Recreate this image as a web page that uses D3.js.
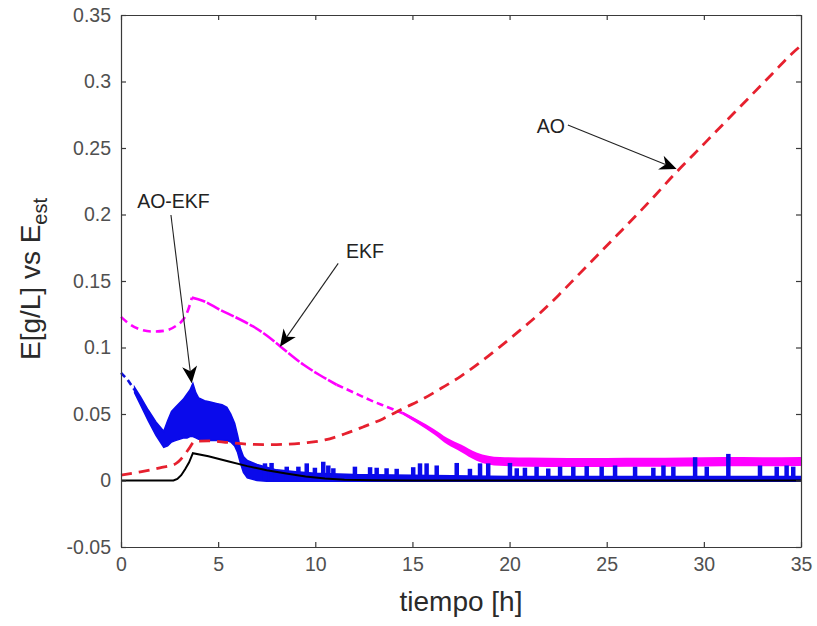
<!DOCTYPE html>
<html><head><meta charset="utf-8">
<script src="https://cdn.jsdelivr.net/npm/d3@7"></script>
<style>body{margin:0;background:#fff;} text{font-family:"Liberation Sans",Arial,Helvetica,sans-serif;}</style>
</head><body><svg id="c" width="817" height="626"></svg>
<script>
// ---- data ----
const xTicks = [0, 5, 10, 15, 20, 25, 30, 35];
const yTicks = [-0.05, 0, 0.05, 0.1, 0.15, 0.2, 0.25, 0.3, 0.35];

// true E (black)
const trueT = [0, 2.7, 2.9, 3.1, 3.3, 3.5, 3.7, 4.5, 5.5, 6.5, 7.5, 8.5, 9.5, 10.5, 11.5, 13, 15, 35];
const trueV = [0, 0, 0.0012, 0.004, 0.0085, 0.0135, 0.0205, 0.0182, 0.0145, 0.0108, 0.0077, 0.0052, 0.003, 0.0015, 0.0006, 0.0002, 0, 0];

// AO estimate (red dashed)
const aoT = [0, 1, 2, 2.8, 3.2, 3.5, 3.8, 4.5, 5.5, 6.5, 7.5, 8.5, 9.5, 10.5, 11.5, 12.5, 13.5, 14.5, 15.5, 16.5, 17.5, 18.5, 19.5, 20.5, 21.5, 22.5, 23.5, 24.5, 25.5, 26.5, 27.5, 28.5, 29.5, 30.5, 31.5, 32.5, 33.5, 34.5, 35];
const aoV = [0.004, 0.0065, 0.0095, 0.0125, 0.018, 0.024, 0.0295, 0.0298, 0.0286, 0.0273, 0.027, 0.0273, 0.0284, 0.0305, 0.035, 0.0405, 0.0465, 0.054, 0.061, 0.0695, 0.0785, 0.089, 0.1005, 0.1125, 0.125, 0.139, 0.154, 0.169, 0.184, 0.199, 0.2145, 0.2305, 0.2455, 0.2605, 0.2755, 0.2905, 0.3055, 0.3205, 0.327];

// EKF estimate (magenta): centre and noise half-width
const ekfT = [0, 0.5, 1, 1.6, 2.2, 2.8, 3.2, 3.45, 3.65, 4.2, 5.1, 6, 6.8, 7.5, 8.2, 9.4, 10.2, 11.1, 12, 12.8, 13.7, 14.5, 15.3, 16.1, 16.8, 17.5, 18.3, 19.5, 21, 23, 25, 27, 29, 31, 33, 35];
const ekfV = [0.123, 0.117, 0.1135, 0.112, 0.1125, 0.116, 0.121, 0.128, 0.1375, 0.1352, 0.1283, 0.122, 0.1158, 0.109, 0.1008, 0.087, 0.0795, 0.072, 0.066, 0.0606, 0.0553, 0.0506, 0.044, 0.0368, 0.0295, 0.0243, 0.018, 0.0143, 0.0138, 0.0135, 0.0136, 0.0137, 0.0139, 0.0142, 0.0141, 0.0143];
const ekfW = [0, 0, 0, 0, 0, 0, 0, 0, 0, 0, 0, 0, 0, 0, 0, 0, 0, 0, 0, 0, 0, 0.001, 0.0015, 0.002, 0.0025, 0.0028, 0.0031, 0.0033, 0.0034, 0.0034, 0.0034, 0.0034, 0.0034, 0.0034, 0.0034, 0.0034];

// AO-EKF estimate (blue): initial line, noisy band envelope, spikes
const aoekfT = [0, 0.35, 0.7];
const aoekfV = [0.081, 0.0755, 0.068];
const bandT = [0.7, 1.0, 1.4, 1.8, 2.2, 2.4, 2.6, 2.8, 3.0, 3.2, 3.4, 3.55, 3.7, 3.85, 4.0, 4.3, 4.6, 4.9, 5.2, 5.45, 5.65, 5.85, 6.0, 6.15, 6.3, 6.5, 7, 7.5, 8, 9, 10, 12, 15, 20, 35];
const bandHi = [0.070, 0.063, 0.053, 0.044, 0.037, 0.045, 0.052, 0.055, 0.058, 0.061, 0.065, 0.068, 0.073, 0.066, 0.062, 0.060, 0.059, 0.058, 0.057, 0.055, 0.050, 0.043, 0.034, 0.024, 0.018, 0.015, 0.012, 0.010, 0.008, 0.0065, 0.0055, 0.0045, 0.004, 0.003, 0.003];
const bandLo = [0.066, 0.057, 0.045, 0.034, 0.025, 0.026, 0.029, 0.030, 0.031, 0.032, 0.032, 0.033, 0.033, 0.032, 0.031, 0.030, 0.030, 0.030, 0.030, 0.030, 0.029, 0.026, 0.021, 0.013, 0.006, 0.002, 0.0, -0.0005, -0.0005, -0.0005, -0.0005, -0.0005, -0.0005, -0.0005, -0.0005];
const spikeT = [7.41, 7.75, 8.53, 9.13, 9.56, 9.98, 10.41, 10.67, 10.93, 12.04, 12.82, 13.16, 13.67, 14.19, 15.04, 15.39, 15.73, 16.25, 17.28, 17.96, 18.48, 18.9, 20.02, 20.37, 20.79, 21.39, 21.99, 22.6, 23.28, 23.97, 24.74, 25.43, 26.46, 27.4, 27.92, 28.43, 29.55, 30.15, 31.26, 32.89, 33.75, 34.26, 34.6];
const spikeH = [0.0129, 0.0132, 0.0104, 0.0104, 0.0129, 0.0096, 0.0141, 0.0113, 0.0092, 0.0104, 0.010, 0.0096, 0.0092, 0.0088, 0.010, 0.0129, 0.0129, 0.0113, 0.0132, 0.0088, 0.0129, 0.0129, 0.0132, 0.0092, 0.0096, 0.0104, 0.009, 0.0104, 0.0104, 0.0108, 0.0104, 0.0113, 0.0104, 0.0096, 0.0113, 0.0104, 0.0175, 0.0104, 0.02, 0.0113, 0.0104, 0.0113, 0.0104];

// annotations (data coordinates)
const annLabel = ["AO", "EKF", "AO-EKF"];
const annTextT = [22.13, 12.56, 2.7];
const annTextV = [0.2613, 0.1673, 0.2047];
const annFromT = [23.0, 11.18, 2.57];
const annFromV = [0.2673, 0.1633, 0.1996];
const annTipT = [28.6, 8.18, 3.64];
const annTipV = [0.2342, 0.1006, 0.0731];

const xLabel = "tiempo [h]";
const yLabelMain = "E[g/L] vs E";
const yLabelSub = "est";

// ---- drawing ----
const svg = d3.select("#c");
const L = 121, R = 801, T = 15, B = 547;
const x = d3.scaleLinear().domain([0, 35]).range([L, R]);
const y = d3.scaleLinear().domain([-0.05, 0.35]).range([B, T]);
const zip = (a, b) => a.map((d, i) => [d, b[i]]);

const plot = svg.append("g");
const lineLin = d3.line().x(d => x(d[0])).y(d => y(d[1]));
const lineMono = d3.line().x(d => x(d[0])).y(d => y(d[1])).curve(d3.curveMonotoneX);

// magenta EKF
const ekf = ekfT.map((t, i) => ({t, v: ekfV[i], w: ekfW[i]}));
plot.append("path").datum(ekf.filter(d => d.t >= 14.5))
  .attr("d", d3.area().x(d => x(d.t)).y0(d => y(d.v - d.w)).y1(d => y(d.v + d.w)).curve(d3.curveMonotoneX))
  .attr("fill", "#ff00ff");
const ekfSegs = [[0, 3.65, "8,5"], [3.65, 11.1, "14,2"], [11.1, 14.5, "7,4"], [14.5, 35, null]];
ekfSegs.forEach(([a, b, dash]) => {
  const p = plot.append("path").datum(ekf.filter(d => d.t >= a && d.t <= b).map(d => [d.t, d.v]))
    .attr("d", lineMono).attr("fill", "none").attr("stroke", "#ff00ff").attr("stroke-width", 2.6);
  if (dash) p.attr("stroke-dasharray", dash);
});

// blue AO-EKF
plot.append("path").datum(zip(aoekfT, aoekfV)).attr("d", lineLin)
  .attr("fill", "none").attr("stroke", "#1010e0").attr("stroke-width", 2.6).attr("stroke-dasharray", "6,4");
plot.append("path").datum(bandT.map((t, i) => [t, bandLo[i], bandHi[i]]))
  .attr("d", d3.area().x(d => x(d[0])).y0(d => y(d[1])).y1(d => y(d[2])))
  .attr("fill", "#0a0aeb").attr("stroke", "#0a0aeb").attr("stroke-width", 1.5);
plot.selectAll("line.spike").data(zip(spikeT, spikeH)).join("line").attr("class", "spike")
  .attr("x1", d => x(d[0])).attr("x2", d => x(d[0]))
  .attr("y1", y(0)).attr("y2", d => y(d[1]))
  .attr("stroke", "#0a0aeb").attr("stroke-width", 4.5);

// red AO
plot.append("path").datum(zip(aoT, aoV)).attr("d", lineMono)
  .attr("fill", "none").attr("stroke", "#e6202e").attr("stroke-width", 2.8).attr("stroke-dasharray", "11,7");

// black true
plot.append("path").datum(zip(trueT, trueV)).attr("d", lineLin)
  .attr("fill", "none").attr("stroke", "#000").attr("stroke-width", 2);

// ---- axes ----
const axCol = "#3a3a3a", txtCol = "#505050";
function styleAxis(g) {
  g.select(".domain").attr("stroke", axCol).attr("stroke-width", 1.2);
  g.selectAll(".tick line").attr("stroke", axCol).attr("stroke-width", 1.2);
  g.selectAll(".tick text").attr("fill", txtCol).attr("font-size", 19.5)
    .attr("font-family", "'Liberation Sans',Arial,sans-serif");
}
svg.append("g").attr("transform", `translate(0,${B})`)
  .call(d3.axisBottom(x).tickValues(xTicks).tickSize(-5).tickSizeOuter(0).tickPadding(10).tickFormat(d => String(d)))
  .call(styleAxis);
svg.append("g").attr("transform", `translate(0,${T})`)
  .call(d3.axisTop(x).tickValues(xTicks).tickSize(-5).tickSizeOuter(0).tickFormat(""))
  .call(styleAxis);
svg.append("g").attr("transform", `translate(${L},0)`)
  .call(d3.axisLeft(y).tickValues(yTicks).tickSize(-5).tickSizeOuter(0).tickPadding(10).tickFormat(d => String(d)))
  .call(styleAxis);
svg.append("g").attr("transform", `translate(${R},0)`)
  .call(d3.axisRight(y).tickValues(yTicks).tickSize(-5).tickSizeOuter(0).tickFormat(""))
  .call(styleAxis);

// axis labels
svg.append("text").attr("x", (L + R) / 2).attr("y", 611).attr("text-anchor", "middle")
  .attr("font-size", 28).attr("fill", "#2a2a2a").text(xLabel);
const yl = svg.append("text").attr("transform", `translate(40,${(T + B) / 2 - 2}) rotate(-90)`)
  .attr("text-anchor", "middle").attr("font-size", 28).attr("fill", "#2a2a2a");
yl.append("tspan").text(yLabelMain);
yl.append("tspan").attr("font-size", 20).attr("dy", 7).text(yLabelSub);

// ---- annotations ----
const ann = svg.append("g");
function arrow(x1, y1, x2, y2) {
  const dx = x2 - x1, dy = y2 - y1, len = Math.hypot(dx, dy), ux = dx / len, uy = dy / len, px = -uy, py = ux;
  const HL = 17, W = 7.5, N = 12;
  const bx = x2 - ux * HL, by = y2 - uy * HL;
  ann.append("line").attr("x1", x1).attr("y1", y1).attr("x2", x2 - ux * N).attr("y2", y2 - uy * N)
    .attr("stroke", "#222").attr("stroke-width", 1.1);
  ann.append("path").attr("d", `M${x2},${y2}L${bx + px * W},${by + py * W}L${x2 - ux * N},${y2 - uy * N}L${bx - px * W},${by - py * W}Z`)
    .attr("fill", "#000");
}
annLabel.forEach((lab, i) => {
  ann.append("text").attr("x", x(annTextT[i])).attr("y", y(annTextV[i])).attr("text-anchor", "middle")
    .attr("font-size", 19.5).attr("fill", "#222").text(lab);
  arrow(x(annFromT[i]), y(annFromV[i]), x(annTipT[i]), y(annTipV[i]));
});
</script></body></html>
